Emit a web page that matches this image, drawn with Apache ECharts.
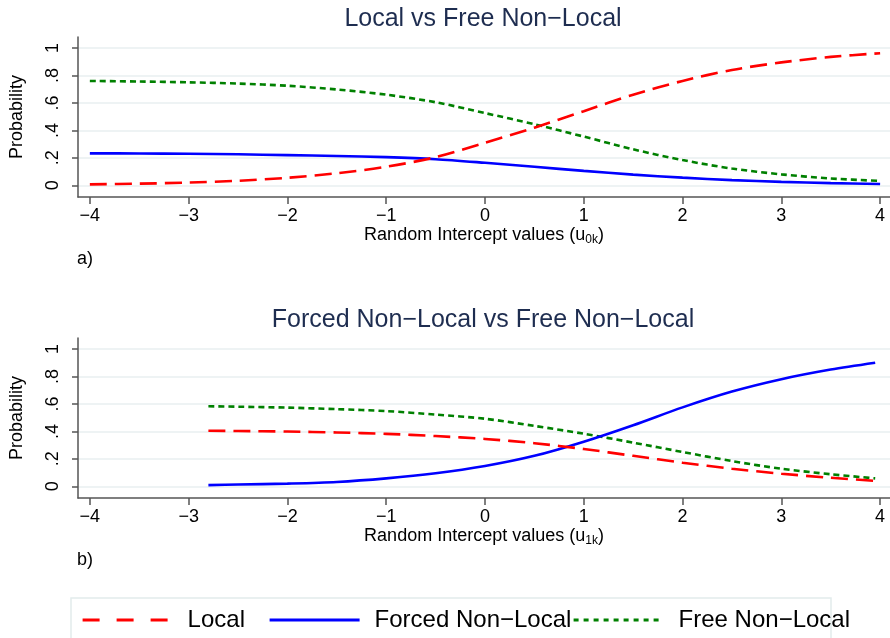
<!DOCTYPE html>
<html><head><meta charset="utf-8">
<script src="https://cdn.jsdelivr.net/npm/echarts@6/dist/echarts.min.js"></script>
<style>html,body{margin:0;padding:0;background:#fff}#c{width:890px;height:638px}</style>
</head><body><div id="c"></div>
<script>
// ---- data ----
const xTop        = [-4, -3.5, -3, -2.5, -2, -1.5, -1, -0.5, 0, 0.5, 1, 1.5, 2, 2.5, 3, 3.5, 4];
const localTop    = [0.007, 0.012, 0.020, 0.033, 0.055, 0.088, 0.135, 0.205, 0.310, 0.420, 0.540, 0.660, 0.760, 0.840, 0.895, 0.935, 0.962];
const forcedTop   = [0.233, 0.232, 0.230, 0.226, 0.220, 0.214, 0.205, 0.190, 0.164, 0.135, 0.105, 0.078, 0.056, 0.038, 0.025, 0.016, 0.010];
const freeTop     = [0.760, 0.756, 0.750, 0.741, 0.725, 0.698, 0.660, 0.605, 0.526, 0.445, 0.355, 0.262, 0.184, 0.122, 0.080, 0.050, 0.032];

const xBottom      = [-2.8, -2.5, -2, -1.5, -1, -0.5, 0, 0.5, 1, 1.5, 2, 2.5, 3, 3.5, 3.95];
const localBottom  = [0.405, 0.403, 0.399, 0.392, 0.382, 0.366, 0.345, 0.314, 0.272, 0.222, 0.172, 0.128, 0.092, 0.062, 0.040];
const forcedBottom = [0.009, 0.013, 0.020, 0.032, 0.058, 0.095, 0.148, 0.222, 0.325, 0.445, 0.575, 0.690, 0.780, 0.850, 0.900];
const freeBottom   = [0.583, 0.580, 0.573, 0.562, 0.548, 0.522, 0.492, 0.440, 0.383, 0.318, 0.250, 0.184, 0.128, 0.088, 0.058];

const xTicks      = [-4, -3, -2, -1, 0, 1, 2, 3, 4];
const yTicks      = [0, 0.2, 0.4, 0.6, 0.8, 1];
const yTickLabels = ['0', '.2', '.4', '.6', '.8', '1'];
const seriesNames = ['Local', 'Forced Non\u2212Local', 'Free Non\u2212Local'];
const panelTitles = ['Local vs Free Non\u2212Local', 'Forced Non\u2212Local vs Free Non\u2212Local'];
const panelTags   = ['a)', 'b)'];
const subscripts  = ['0k', '1k'];

// ---- chart ----
const FONT = '"Liberation Sans", Arial, sans-serif';
const colors = ['#ff0000', '#0000ff', '#008000'];
const dashes = [[17, 8], 'solid', [6, 4]];
const axisColor = '#555555';

function pairs(xs, ys) { return xs.map((x, i) => [x, ys[i]]); }
function fmtX(v) { return v < 0 ? '\u2212' + Math.abs(v) : String(v); }
function fmtY(v) {
  for (let i = 0; i < yTicks.length; i++) if (Math.abs(yTicks[i] - v) < 1e-6) return yTickLabels[i];
  return '';
}

const gridTops = [37, 338];
const grids = gridTops.map(t => ({ left: 75, right: 0, top: t, height: 160 }));

const xAxes = [0, 1].map(i => ({
  type: 'value', gridIndex: i, min: -4.12, max: 4.1,
  name: '{a|Random Intercept values (u}{s|' + subscripts[i] + '}{a|)}',
  nameLocation: 'middle', nameGap: 26,
  nameTextStyle: {
    rich: {
      a: { fontSize: 18, fontFamily: FONT, color: '#000', lineHeight: 22 },
      s: { fontSize: 12, fontFamily: FONT, color: '#000', lineHeight: 12, verticalAlign: 'bottom' }
    }
  },
  axisLine: { show: true, onZero: false, lineStyle: { color: axisColor, width: 1.5 } },
  axisTick: { show: true, customValues: xTicks, length: 7, lineStyle: { color: axisColor, width: 1.5 } },
  axisLabel: { customValues: xTicks, formatter: fmtX, fontSize: 18, fontFamily: FONT, color: '#000', margin: 10 },
  splitLine: { show: false }
}));

const yAxes = [0, 1].map(i => ({
  type: 'value', gridIndex: i, min: -0.085, max: 1.08,
  name: 'Probability', nameLocation: 'middle', nameGap: 52,
  nameTextStyle: { fontSize: 18, fontFamily: FONT, color: '#000' },
  axisLine: { show: true, onZero: false, lineStyle: { color: axisColor, width: 1.5 } },
  axisTick: { show: true, customValues: yTicks, length: 6, lineStyle: { color: axisColor, width: 1.5 } },
  axisLabel: { customValues: yTicks, formatter: fmtY, rotate: 90, fontSize: 18, fontFamily: FONT, color: '#000', margin: 16 },
  splitLine: { show: true, lineStyle: { color: '#e8eff1', width: 1.5 } }
}));

const seriesData = [
  [localTop, forcedTop, freeTop],
  [localBottom, forcedBottom, freeBottom]
];
const xs = [xTop, xBottom];
const series = [];
[0, 1].forEach(p => {
  [0, 1, 2].forEach(k => {
    series.push({
      type: 'line', name: seriesNames[k], xAxisIndex: p, yAxisIndex: p,
      data: pairs(xs[p], seriesData[p][k]),
      smooth: 0.3, symbol: 'none', z: k === 0 ? 4 : (k === 1 ? 3 : 2),
      lineStyle: { color: colors[k], width: 2.6, type: dashes[k] },
      itemStyle: { color: colors[k] }
    });
  });
});

const legendLefts = [81, 268, 572];
const legendDash = [[17, 17], 'solid', [5, 5]];
const legends = [0, 1, 2].map(k => ({
  data: [seriesNames[k]], left: legendLefts[k], top: 608, orient: 'horizontal',
  padding: 0, itemWidth: 90, itemHeight: 24, selectedMode: false,
  itemStyle: { opacity: 0 },
  lineStyle: { type: legendDash[k], width: 3.2 },
  textStyle: { fontSize: 24, fontFamily: FONT, color: '#000', padding: [0, 0, 0, 10] }
}));

const titleStyle = { fontSize: 25, fontWeight: 'normal', fontFamily: FONT, color: '#1e2d50' };
const tagStyle = { fontSize: 18, fontWeight: 'normal', fontFamily: FONT, color: '#000' };

const option = {
  animation: false,
  backgroundColor: '#ffffff',
  title: [
    { text: panelTitles[0], left: 483, top: 7, textAlign: 'center', padding: 0, textStyle: titleStyle },
    { text: panelTitles[1], left: 483, top: 308, textAlign: 'center', padding: 0, textStyle: titleStyle },
    { text: panelTags[0], left: 77, top: 250, padding: 0, textStyle: tagStyle },
    { text: panelTags[1], left: 77, top: 551, padding: 0, textStyle: tagStyle }
  ],
  grid: grids,
  xAxis: xAxes,
  yAxis: yAxes,
  legend: legends,
  graphic: [{
    type: 'rect', silent: true, z: -1,
    shape: { x: 71, y: 598, width: 760, height: 60 },
    style: { fill: 'none', stroke: '#e2ecec', lineWidth: 1.5 }
  }],
  series: series
};

const chart = echarts.init(document.getElementById('c'), null, { renderer: 'canvas' });
chart.setOption(option);
</script>
</body></html>
